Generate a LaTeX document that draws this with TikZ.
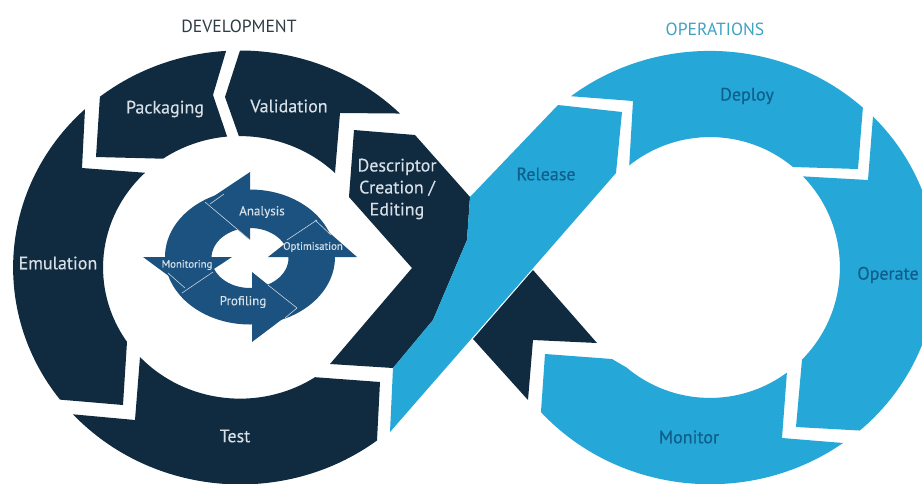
\documentclass[tikz,border=0pt]{standalone}
\usepackage{fontspec}
\setmainfont{PT Sans}
\newfontfamily\labfont[FakeBold=0.25]{PT Sans}
\definecolor{navy}{HTML}{102B40}
\definecolor{sky}{HTML}{25A7D8}
\definecolor{mid}{HTML}{1C5280}
\definecolor{ltxt}{HTML}{D8E0E7}
\definecolor{btxt}{HTML}{0F5E8C}
\definecolor{head}{HTML}{2E3C46}
\definecolor{ophead}{HTML}{3FA3C4}
\tikzset{
  navyseg/.style={fill=navy},
  skyseg/.style={fill=sky},
  midseg/.style={fill=mid},
  tipline/.style={draw=white!75!mid,line width=0.6pt},
  lab/.style={text=ltxt,inner sep=0pt,font=\labfont\fontsize{18}{18}\selectfont},
  blab/.style={text=btxt,inner sep=0pt,font=\labfont\fontsize{18}{18}\selectfont},
  slab/.style={text=ltxt,inner sep=0pt,font=\labfont\fontsize{13}{13}\selectfont},
  tlab/.style={text=ltxt,inner sep=0pt,font=\labfont\fontsize{10.8}{11}\selectfont},
  ttl/.style={inner sep=0pt,font=\fontsize{17.6}{18}\selectfont},
}
\begin{document}
\begin{tikzpicture}[x=1pt,y=-1pt]
\clip (0,0) rectangle (922,483);
\fill[white] (0,0) rectangle (922,483);
% lower-right dark piece of the development loop
\fill[navyseg] (533,270) -- (597,343) -- (533,340) -- (528,400) -- (473,339) -- cycle;
% Packaging
\fill[navyseg] (226.1,50.9) arc[start angle=-93.5,end angle=-128.1,x radius=227,y radius=217]
  -- (96,157) -- (163,158.7) arc[start angle=-124.2,end angle=-95.4,x radius=137,y radius=131.5]
  -- (213,95) -- cycle;
% Validation
\fill[navyseg] (240,50.5) arc[start angle=-90,end angle=-45.2,x radius=227,y radius=217]
  -- (340,113) -- (335,173) arc[start angle=-46,end angle=-90.4,x radius=137,y radius=131.5]
  -- (225,97) -- cycle;
% Descriptor
\fill[navyseg] (354,130) -- (415,135) -- (470,197) -- (467,240) -- (433,320) -- (393,368)
  -- (330,364) -- (412,268) -- (349,197) -- cycle;
% Emulation
\fill[navyseg] (85,109.1) arc[start angle=-133.1,end angle=-217.5,x radius=227,y radius=217]
  -- (123,405) -- (127,341.8) arc[start angle=145.6,end angle=226.1,x radius=137,y radius=131.5]
  -- (82,168) -- cycle;
% Test
\fill[navyseg] (377,440.5) arc[start angle=52.9,end angle=137.4,x radius=227,y radius=217]
  -- (135,420) -- (140,357) arc[start angle=136.9,end angle=56.8,x radius=137,y radius=131.5]
  -- (380,382) -- cycle;
% Release
\fill[skyseg] (558,105) -- (622,112) -- (616,173) -- (390,432) -- (393,368) -- (433,320)
  -- (467,240) -- (470,197) -- cycle;
% Deploy
\fill[skyseg] (571,96.2) arc[start angle=-127.7,end angle=-47.6,x radius=227,y radius=217]
  -- (858,169) -- (793,167) arc[start angle=-50.4,end angle=-128.5,x radius=130,y radius=130.5]
  -- (633,101) -- cycle;
% Operate
\fill[skyseg] (873,116.5) arc[start angle=-44.1,end angle=48.7,x radius=227,y radius=217]
  -- (796,427) -- (802,359.6) arc[start angle=44.9,end angle=-44.3,x radius=130,y radius=130.5]
  -- (868,180) -- cycle;
% Monitor
\fill[skyseg] (545,354) -- (612,359) -- (626.4,367.4) arc[start angle=130,end angle=53.7,x radius=130,y radius=130.5]
  -- (782,438) -- (843,443) arc[start angle=54.1,end angle=138.1,x radius=227,y radius=217]
  -- cycle;
% inner cycle
\fill[midseg,even odd rule] (250,257) ellipse[x radius=85,y radius=67.5]
  (250,258) ellipse[x radius=38.5,y radius=30];
\fill[midseg] (250,172) -- (250,240) -- (205,202) -- cycle;
\fill[midseg] (143,257) -- (232,257) -- (185,288) -- cycle;
\fill[midseg] (252,272) -- (252,342) -- (297,308) -- cycle;
\fill[midseg] (268,257) -- (357,257) -- (315,220) -- cycle;
\draw[tipline] (250,240) -- (205,202) (210,204) -- (224,194);
\draw[tipline] (287,240) -- (317,220) (315,220) -- (331,235);
\draw[tipline] (268,285) -- (297,308) (297,308) -- (285,318);
\draw[tipline] (168,273) -- (185,288) (213,272) -- (182,293);
% titles
\node[ttl,text=head] (dev) at (239,26) {DEVELOPMENT};
\node[ttl,text=ophead] (ops) at (715,29) {OPERATIONS};
% labels
\node[lab] (pack) at (165,109) {Packaging};
\node[lab] (vali) at (289,106) {Validation};
\node[lab,align=center] (desc) at (397,189) {Descriptor\\[4pt]Creation /\\[4pt]Editing};
\node[lab] (emul) at (58,263) {Emulation};
\node[lab] (test) at (235,436) {Test};
\node[blab] (rele) at (546,174) {Release};
\node[blab] (depl) at (747,96) {Deploy};
\node[blab] (oper) at (888,275) {Operate};
\node[blab] (moni) at (689,437) {Monitor};
\node[slab] (anal) at (262,212) {Analysis};
\node[tlab] (opti) at (313,247) {Optimisation};
\node[tlab] (mong) at (187,265) {Monitoring};
\node[slab] (prof) at (243,302) {Profiling};
\end{tikzpicture}
\end{document}
